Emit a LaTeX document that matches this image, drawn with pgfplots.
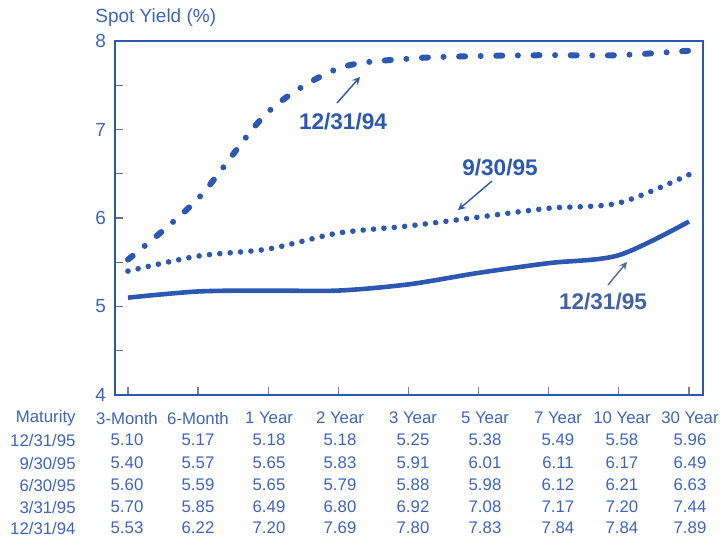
\documentclass[border=0pt]{standalone}
\usepackage{pgfplots}
\pgfplotsset{compat=1.18}
\usepackage{fontspec}
\setmainfont{Liberation Sans}
\definecolor{yb}{RGB}{45,88,178}
\definecolor{tb}{RGB}{62,100,190}
\begin{document}
\begin{tikzpicture}
\begin{axis}[
 name=ax,
 at={(0,0)}, anchor=south west,
 scale only axis, width=294pt, height=177pt,
 xmin=-0.185, xmax=8.2, ymin=4, ymax=8,
 xtick={0,1,2,3,4,5,6,7,8}, xticklabels={},
 ytick={4,5,6,7,8}, minor ytick={4.5,5.5,6.5,7.5},
 xtick pos=bottom, ytick pos=left,
 axis line style={yb, line width=0.8pt},
 tick align=inside,
 major tick length=4pt, minor tick length=4pt,
 ytick style={gray!60!yb, line width=0.6pt},
 xtick style={gray, line width=0.6pt},
 tick label style={font=\fontsize{9.5}{10}\selectfont, text=tb},
 yticklabel style={xshift=-1pt},
 /pgf/number format/assume math mode=true,
 clip=false,
]
\addplot[yb, line width=2.3pt, smooth] coordinates {(0,5.10)(1,5.17)(2,5.18)(3,5.18)(4,5.25)(5,5.38)(6,5.49)(7,5.58)(8,5.96)};
\addplot[yb, line width=2.8pt, smooth, line cap=round, dash pattern=on 0pt off 5.2pt] coordinates {(0,5.40)(1,5.57)(2,5.65)(3,5.83)(4,5.91)(5,6.01)(6,6.11)(7,6.17)(8,6.49)};
\addplot[yb, line width=3pt, smooth, line cap=round, dash pattern=on 3pt off 7.8pt on 0pt off 7.8pt] coordinates {(0,5.53)(1,6.22)(2,7.20)(3,7.69)(4,7.80)(5,7.83)(6,7.84)(7,7.84)(8,7.89)};
\end{axis}
\begin{scope}[shift={(ax.south west)}]
\begin{scope}[shift={(-57.5pt,197.5pt)}, x=0.5pt, y=-0.5pt]
 \node[anchor=west, inner sep=0, text=tb, font=\fontsize{9.5}{11}\selectfont] at (95,18) {Spot Yield (\%)};
 % annotations
 \node[inner sep=0, text=yb, font=\bfseries\fontsize{11.3}{13}\selectfont] at (343,122) {12/31/94};
 \draw[yb, line width=0.7pt, -stealth] (337,103) -- (360,77);
 \node[inner sep=0, text=yb, font=\bfseries\fontsize{11.3}{13}\selectfont] at (500,168) {9/30/95};
 \draw[yb, line width=0.7pt, -stealth] (492,181) -- (458,210);
 \node[inner sep=0, text=yb!75!gray, font=\bfseries\fontsize{11.3}{13}\selectfont] at (603,302) {12/31/95};
 \draw[yb!60!gray, line width=0.7pt, -stealth] (608,285) -- (627,262);
 % table
 \newcommand\trow[3]{%
   \node[anchor=east, inner sep=0, text=tb, font=\fontsize{8.4}{10}\selectfont] at (76,#1) {#2};
   \foreach \v [count=\i] in {#3} {
     \pgfmathsetmacro\cx{{127,198,269,340,413,485,558,622,690}[\i-1]}
     \node[inner sep=0, text=tb, font=\fontsize{8.4}{10}\selectfont] at (\cx,#1) {\v};
   }}
 \trow{418}{Maturity}{3-Month,6-Month,1 Year,2 Year,3 Year,5 Year,7 Year,10 Year,30 Year}
 \trow{440}{12/31/95}{5.10,5.17,5.18,5.18,5.25,5.38,5.49,5.58,5.96}
 \trow{463}{9/30/95}{5.40,5.57,5.65,5.83,5.91,6.01,6.11,6.17,6.49}
 \trow{485}{6/30/95}{5.60,5.59,5.65,5.79,5.88,5.98,6.12,6.21,6.63}
 \trow{507}{3/31/95}{5.70,5.85,6.49,6.80,6.92,7.08,7.17,7.20,7.44}
 \trow{528}{12/31/94}{5.53,6.22,7.20,7.69,7.80,7.83,7.84,7.84,7.89}
 \pgfresetboundingbox
 \path[use as bounding box] (0,0) rectangle (720,537);
\end{scope}
\end{scope}
\end{tikzpicture}
\end{document}
